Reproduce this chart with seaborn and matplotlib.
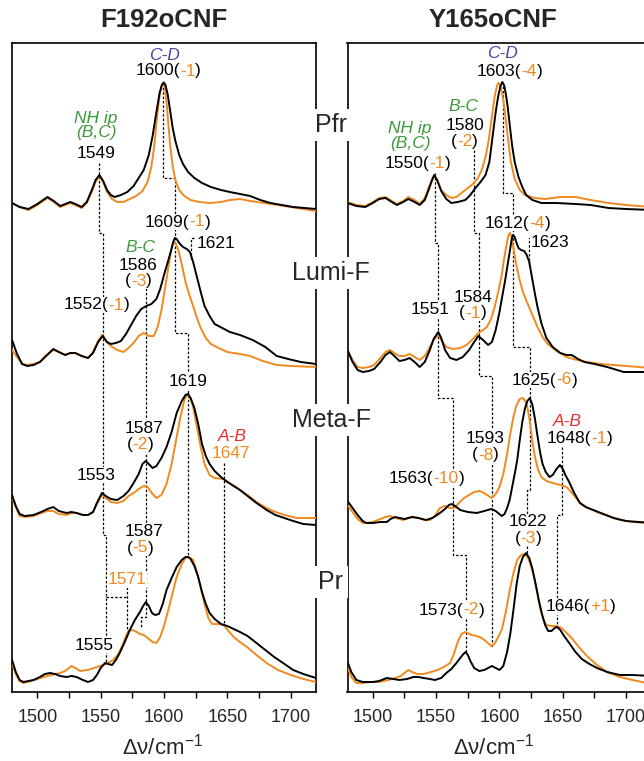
import numpy as np
import pandas as pd
import matplotlib
matplotlib.use("Agg")
import matplotlib.pyplot as plt
import seaborn as sns
from matplotlib.offsetbox import TextArea, HPacker, AnnotationBbox
from matplotlib.ticker import MultipleLocator

sns.set_style("ticks")
plt.rcParams["font.family"] = ["Liberation Sans", "DejaVu Sans"]
plt.rcParams["mathtext.fontset"] = "custom"
plt.rcParams["mathtext.rm"] = "Liberation Sans"
plt.rcParams["mathtext.it"] = "Liberation Sans:italic"

ORANGE = "#f08a1e"
GREEN = "#3a9a3a"
PURPLE = "#5a3ea6"
RED = "#e8302a"

# spectra: (wavenumber, stacked intensity) pairs
# black = reference, orange = isotope-labelled

# ---- F192oCNF ----
f192_pfr_k = [(1480, 489), (1486, 485), (1493, 483), (1500, 488), (1508, 495), (1513, 491), (1518, 486), (1522, 488),
              (1526, 490), (1530, 488), (1535, 485), (1539, 490), (1543, 502), (1546, 512), (1549, 517), (1552, 511),
              (1555, 502), (1558, 497), (1561, 495), (1566, 497), (1571, 500), (1576, 506), (1580, 514), (1584, 522),
              (1588, 537), (1591, 556), (1594, 580), (1596.5, 599), (1598.3, 607), (1599.8, 609.5), (1601.2, 607),
              (1603, 597), (1605, 580), (1607, 563), (1609, 551), (1612, 537), (1615, 528), (1619, 520), (1624, 514),
              (1630, 509), (1637, 505), (1645, 502), (1652, 500), (1660, 498), (1668, 496), (1676, 492), (1684, 489),
              (1693, 487), (1702, 485), (1711, 484), (1720, 483)]
f192_pfr_o = [(1480, 489), (1486, 485), (1493, 482), (1500, 487), (1508, 494), (1513, 490), (1518, 485), (1522, 487),
              (1526, 489), (1530, 487), (1535, 484), (1539, 489), (1543, 500), (1546, 510), (1549, 516), (1552, 510),
              (1555, 500), (1559, 493), (1563, 490), (1568, 490), (1573, 493), (1578, 496), (1583, 501), (1587, 510),
              (1590, 525), (1592.5, 548), (1594.5, 575), (1596.5, 596), (1598, 606), (1599.3, 609), (1600.6, 605),
              (1602, 590), (1603.5, 567), (1605, 545), (1607, 525), (1609, 512), (1612, 502), (1616, 496), (1621, 492),
              (1628, 490), (1636, 489), (1645, 490), (1652, 492), (1660, 493), (1668, 491), (1679, 489), (1690, 487),
              (1700, 485), (1710, 483), (1720, 481)]

f192_lumi_k = [(1480, 352), (1484, 338), (1488, 328), (1492, 326), (1497, 327), (1502, 330), (1507, 336), (1512.6, 343),
               (1517, 340), (1522, 337), (1526, 339), (1530, 339), (1535, 336), (1540, 334), (1544, 339), (1548, 350),
               (1551.7, 356), (1555, 350), (1558, 348), (1562, 349), (1566, 351), (1570, 358), (1574, 367), (1578, 376),
               (1582, 383), (1586, 386), (1590, 388), (1594, 393), (1597, 403), (1600, 417), (1603, 430), (1605.5, 441),
               (1607, 449), (1608.5, 454), (1610, 453), (1612, 449), (1615, 445), (1618, 443), (1620.5, 440),
               (1623, 430), (1626, 415), (1629, 400), (1632, 386), (1636, 376), (1640, 368), (1646, 364), (1652, 360),
               (1660, 357), (1670, 352), (1680, 345), (1689, 336), (1698, 333), (1708, 330), (1720, 328)]
f192_lumi_o = [(1480, 342), (1484, 335), (1488, 328), (1492, 327), (1497, 328), (1502, 330), (1507, 337), (1512.6, 342),
               (1517, 340), (1522, 337), (1526, 339), (1530, 339), (1535, 336), (1540, 334), (1544, 340), (1548, 351),
               (1551, 357), (1554, 351), (1558, 346), (1563, 342), (1568, 340), (1572, 344), (1576, 349), (1580, 356),
               (1584, 359), (1588, 356), (1592, 356), (1595, 365), (1598, 382), (1601, 405), (1603.5, 425),
               (1605.5, 441), (1607.5, 450), (1609.5, 448), (1611.5, 441), (1614, 428), (1617, 410), (1620, 397),
               (1623, 386), (1626, 374), (1629, 364), (1633, 354), (1637, 348), (1643, 344), (1650, 340), (1660, 338),
               (1668, 336), (1678, 331), (1689, 327), (1700, 326), (1720, 325)]

f192_meta_k = [(1480, 197), (1483, 186), (1486, 178), (1490, 176), (1497, 177), (1503, 180), (1508, 183), (1512.6, 185),
               (1517, 181), (1523, 179), (1527, 180), (1531, 179), (1536, 177), (1540, 177), (1544, 180), (1547, 189),
               (1551, 199), (1554, 196), (1558, 193), (1563, 192), (1568, 196), (1572, 201), (1576, 209), (1580, 218),
               (1583, 228), (1585.5, 231), (1588, 228), (1591, 224), (1594, 226), (1598, 234), (1602, 245), (1606, 260),
               (1610, 279), (1614, 291), (1617, 297), (1619, 298), (1621, 294), (1624, 284), (1627, 268), (1630, 248),
               (1633, 236), (1636, 228), (1640, 221), (1645, 215), (1650, 210), (1655, 206), (1660, 202), (1666, 196),
               (1673, 189), (1681, 182), (1688, 177), (1695, 174), (1702, 171), (1710, 168), (1720, 167)]
f192_meta_o = [(1480, 195), (1483, 185), (1486, 176), (1490, 175), (1497, 176), (1503, 179), (1508, 181), (1512.6, 181),
               (1517, 178), (1523, 177), (1527, 179), (1531, 179), (1536, 177), (1540, 177), (1544, 180), (1547, 188),
               (1551, 197), (1554, 194), (1558, 190), (1563, 189), (1568, 191), (1572, 196), (1576, 199), (1580, 203),
               (1584, 206), (1587, 205), (1591, 198), (1594, 194), (1598, 197), (1602, 208), (1606, 228), (1610, 255),
               (1613, 275), (1616, 292), (1618.6, 298), (1621, 293), (1623, 285), (1626, 265), (1629, 245), (1632, 228),
               (1636, 217), (1640, 214), (1647, 213), (1653, 208), (1660, 202), (1667, 196), (1673, 190), (1681, 184),
               (1688, 180), (1695, 177), (1705, 174), (1720, 174)]

f192_pr_k = [(1480, 32), (1483, 20), (1486, 12), (1489, 10), (1493, 11), (1497, 12), (1502, 15), (1506, 18), (1510, 19),
             (1514, 18), (1518, 16), (1523, 15), (1527, 16), (1531, 15), (1536, 12), (1540, 10), (1544, 12), (1547, 17),
             (1550, 24), (1553.5, 29), (1556, 28), (1559, 27), (1562, 32), (1565, 39), (1569, 50), (1573, 62),
             (1577, 72), (1581, 80), (1583.5, 86), (1585.7, 90), (1588, 86), (1590.5, 79), (1593, 77), (1596, 78),
             (1599, 88), (1602, 102), (1606, 114), (1610, 125), (1614, 132), (1617, 135), (1619, 135), (1621, 133),
             (1624, 126), (1627, 115), (1630, 100), (1633, 88), (1636, 79), (1640, 73), (1645, 68), (1650, 66),
             (1655, 63), (1660, 60), (1666, 56), (1673, 49), (1680, 42), (1687, 35), (1694, 29), (1702, 22),
             (1710, 18), (1720, 14)]
f192_pr_o = [(1480, 29), (1483, 18), (1486, 11), (1489, 9), (1495, 11), (1500, 13), (1505, 15), (1511, 17), (1518, 19),
             (1522, 21), (1527, 26), (1530, 24), (1534, 21), (1540, 22), (1547, 25), (1554, 28), (1560, 32), (1564, 38),
             (1568, 49), (1570, 56), (1572, 61), (1575, 62), (1578.6, 60), (1581, 58), (1584, 57), (1588, 53),
             (1591, 50), (1594, 49), (1597, 55), (1600, 66), (1603, 80), (1607, 100), (1610, 115), (1614, 128),
             (1617, 134), (1619, 135), (1621, 134), (1623, 132), (1626, 120), (1629, 104), (1632, 88), (1635, 74),
             (1638, 68), (1643, 68), (1647, 67), (1651, 61), (1655, 55), (1660, 50), (1665.5, 45), (1672, 38),
             (1681, 29), (1690, 22), (1700, 17), (1710, 13), (1720, 10)]

# ---- Y165oCNF ----
y165_pfr_k = [(1480, 489), (1487, 486), (1494, 485), (1500, 489), (1505, 493), (1510, 494), (1515, 490), (1519, 487),
              (1524, 490), (1528, 493), (1533, 490), (1537, 487), (1541, 492), (1544, 502), (1546.5, 511),
              (1548.5, 517), (1551, 511), (1554, 501), (1558, 493), (1562, 489), (1567, 490), (1573, 492), (1577, 497),
              (1581, 504), (1585, 510), (1589, 517), (1592, 530), (1594.5, 555), (1597, 580), (1599, 596),
              (1600.8, 606), (1602.2, 610), (1603.6, 607), (1605, 598), (1606.5, 585), (1608, 568), (1610, 546),
              (1612, 530), (1615, 515), (1618, 505), (1621, 497), (1626, 492), (1633, 489), (1645, 489), (1660, 488),
              (1672, 487), (1686, 484), (1700, 483), (1720, 482)]
y165_pfr_o = [(1480, 490), (1487, 487), (1494, 486), (1500, 490), (1505, 494), (1510, 495), (1515, 491), (1519, 488),
              (1524, 491), (1528, 495), (1533, 492), (1537, 488), (1541, 494), (1544, 504), (1546.5, 512),
              (1548.5, 517), (1551, 512), (1554, 502), (1558, 497), (1562, 494), (1566, 495), (1571, 500), (1575, 504),
              (1579, 508), (1583, 514), (1586, 522), (1589, 535), (1591.5, 552), (1594, 575), (1596, 594),
              (1597.8, 605), (1599, 609), (1600.5, 607), (1602, 599), (1603.5, 588), (1605, 572), (1607, 550),
              (1609, 530), (1612, 513), (1616, 502), (1620, 497), (1628, 494), (1636, 493), (1648, 495), (1660, 495),
              (1672, 492), (1686, 489), (1700, 487), (1720, 485)]

y165_lumi_k = [(1480, 342), (1484, 330), (1488, 322), (1492, 320), (1497, 321), (1501, 323), (1506, 330), (1510, 337),
               (1513.5, 340), (1517, 336), (1521, 331), (1525, 332), (1529, 334), (1533, 330), (1537, 325), (1541, 330),
               (1545, 342), (1548, 353), (1551.7, 360), (1554, 354), (1557, 342), (1561, 334), (1566, 332), (1571, 335),
               (1576, 342), (1580, 350), (1583.3, 356), (1587, 352), (1591, 347), (1594, 350), (1597, 362), (1600, 380),
               (1602.5, 398), (1604.5, 412), (1606.5, 428), (1608.3, 442), (1609.5, 452), (1610.6, 457), (1612, 455),
               (1613.5, 449), (1615, 444), (1617, 442), (1619.5, 441), (1621.5, 437), (1623.5, 430), (1626, 412),
               (1628, 398), (1630, 385), (1633, 369), (1637, 354), (1642, 345), (1648, 339), (1653, 337), (1657, 337),
               (1662, 333), (1667, 330), (1675, 328), (1685, 325), (1698, 320), (1720, 320)]
y165_lumi_o = [(1480, 342), (1484, 332), (1488, 325), (1492, 324), (1497, 325), (1501, 327), (1506, 334), (1510, 340),
               (1513.5, 342), (1517, 339), (1521, 336), (1525, 336), (1529, 338), (1533, 335), (1537, 332), (1541, 336),
               (1545, 345), (1548, 352), (1551.7, 357), (1554, 352), (1558, 345), (1563, 343), (1569, 344), (1574, 347),
               (1579, 353), (1583.3, 359), (1587, 362), (1590, 365), (1593, 372), (1596, 384), (1599, 400),
               (1601.5, 415), (1603.5, 432), (1605.5, 447), (1607.2, 457), (1608.3, 459), (1609.5, 455), (1611, 444),
               (1613, 429), (1615.5, 414), (1618.5, 400), (1622, 389), (1626, 377), (1630, 365), (1634, 355),
               (1638, 348), (1645, 341), (1653, 335), (1661, 332), (1669, 330), (1680, 328), (1690, 327), (1720, 324)]

y165_meta_k = [(1480, 191), (1484, 184), (1488, 177), (1492, 171), (1495, 169), (1500, 169), (1506, 170), (1511, 170),
               (1514, 173), (1517.5, 175), (1521, 174), (1525, 173), (1528, 174), (1531, 175), (1536, 174), (1542, 172),
               (1547, 174), (1553, 179), (1557, 183), (1560, 187), (1562.2, 188), (1565, 186), (1569, 182), (1575, 180),
               (1582, 179), (1588, 181), (1593.5, 183), (1597, 181), (1601.7, 176), (1604, 178), (1606, 184),
               (1608, 192), (1610, 205), (1612, 218), (1614, 232), (1616, 252), (1618, 270), (1620, 283), (1622, 291),
               (1624, 294), (1626, 287), (1628, 273), (1630, 256), (1632, 240), (1634, 228), (1636.5, 220),
               (1639.5, 215), (1642, 217), (1645, 223), (1647.7, 227), (1650, 223), (1652, 217), (1655, 210),
               (1659, 199), (1663.5, 189), (1668, 185), (1674, 182), (1682, 178), (1690, 174), (1700, 171), (1720, 169)]
y165_meta_o = [(1480, 187), (1484, 180), (1488, 173), (1492, 169), (1495, 169), (1500, 170), (1506, 173), (1510, 175),
               (1513.5, 176), (1518, 174), (1524, 172), (1528, 174), (1531, 175), (1536, 174), (1541, 172), (1545, 172),
               (1549, 176), (1553, 184), (1557, 186), (1561, 184), (1564, 184), (1568, 189), (1572, 194), (1576, 197),
               (1580, 200), (1584.6, 201), (1589, 198), (1593.8, 194), (1597, 198), (1600, 205), (1603, 218),
               (1606, 238), (1608.5, 258), (1611, 275), (1613.5, 287), (1616, 293), (1618.3, 294), (1620, 292),
               (1622, 285), (1624, 270), (1626, 250), (1628, 235), (1630.5, 222), (1633, 215), (1637, 211), (1642, 209),
               (1648, 207), (1653, 205), (1658, 198), (1663.5, 189), (1670, 184), (1677, 180), (1686, 176), (1695, 172),
               (1705, 170), (1720, 169)]

y165_pr_k = [(1480, 30), (1483, 20), (1487, 12), (1492, 10), (1497, 10), (1500, 10), (1505, 11), (1511, 14), (1516, 13),
             (1521, 12), (1527, 13), (1532, 15), (1536, 15), (1540, 14), (1545, 13), (1549, 12), (1554, 14), (1558, 19),
             (1562, 23), (1566, 29), (1569, 34), (1571.5, 38), (1573.3, 40), (1575, 37), (1577, 31), (1580, 24),
             (1584, 21), (1588, 22), (1591, 24), (1594, 26), (1597, 24), (1600, 22), (1603, 26), (1606, 40),
             (1608.5, 58), (1611, 82), (1613.5, 108), (1616, 126), (1618.5, 135), (1621, 139), (1623.5, 134),
             (1626, 123), (1628.5, 108), (1631, 92), (1633.5, 78), (1636, 67), (1638.5, 61), (1641, 61), (1643.5, 64),
             (1645.5, 65), (1648, 62), (1651, 56), (1655, 49), (1660, 40), (1665, 33), (1671, 28), (1677, 24),
             (1685, 20), (1695, 17), (1705, 17), (1720, 16)]
y165_pr_o = [(1480, 25), (1483, 15), (1487, 9), (1492, 9), (1498, 10), (1505, 10), (1512, 12), (1518, 14), (1522, 16),
             (1526, 20), (1528, 22), (1531, 20), (1535, 18), (1540, 18), (1546, 20), (1551, 22), (1556, 25), (1561, 29),
             (1564, 38), (1567, 50), (1570, 58), (1572.7, 60), (1575, 59), (1578, 57), (1582, 56), (1586, 54),
             (1590, 50), (1593.5, 46), (1596, 48), (1599, 55), (1602, 63), (1605, 80), (1608, 101), (1611, 119),
             (1614, 132), (1617, 137), (1620, 138), (1622.5, 134), (1625, 126), (1627.5, 114), (1630, 98), (1632, 84),
             (1634.5, 73), (1637, 67), (1641, 66), (1645, 66), (1649, 64), (1653, 59), (1657, 54), (1662, 46),
             (1669, 36), (1677, 27), (1685, 20), (1695, 15), (1705, 12), (1720, 8)]

states = ["Pfr", "Lumi-F", "Meta-F", "Pr"]
state_label_y = [125, 273, 420, 582]  # pixel rows of the state names

f192_traces = [(f192_pfr_k, f192_pfr_o), (f192_lumi_k, f192_lumi_o),
               (f192_meta_k, f192_meta_o), (f192_pr_k, f192_pr_o)]
y165_traces = [(y165_pfr_k, y165_pfr_o), (y165_lumi_k, y165_lumi_o),
               (y165_meta_k, y165_meta_o), (y165_pr_k, y165_pr_o)]

# dotted guide lines linking band positions between states
f192_guides = [
    [(1549, 529), (1549, 459), (1552, 459), (1552, 157), (1554, 157), (1554, 29)],
    [(1554, 95), (1571, 95)],
    [(1571, 105), (1571, 62)],
    [(1599.5, 609), (1599.5, 514), (1608.5, 514), (1608.5, 359), (1619, 359), (1619, 135)],
    [(1586, 404), (1586, 75), (1582, 75), (1582, 64)],
    [(1623.5, 454), (1621, 454), (1621, 432)],
    [(1647.5, 229), (1647.5, 69)],
]
y165_guides = [
    [(1549, 519), (1549, 449), (1551.5, 449), (1551.5, 294), (1563, 294), (1563, 137), (1573.3, 137), (1573.3, 40)],
    [(1580, 542), (1580, 459), (1583.5, 459), (1583.5, 316), (1594, 316), (1594, 45)],
    [(1602.5, 606), (1602.5, 499), (1611, 499), (1611, 345), (1624, 345), (1624, 202), (1621.5, 202), (1621.5, 139)],
    [(1625, 454), (1623, 454), (1623, 427)],
    [(1649, 245), (1649, 177), (1645.6, 177), (1645.6, 65)],
]

K = "black"
O = ORANGE
# band labels: x, y, [(text, colour)], italic
f192_labels = [
    (1600.2, 637, [("C-D", PURPLE)], True),
    (1603.3, 621, [("1600(", K), ("-1", O), (")", K)], False),
    (1546.4, 574, [("NH ip", GREEN)], True),
    (1546.4, 559, [("(B,C)", GREEN)], True),
    (1546.4, 539, [("1549", K)], False),
    (1610.8, 470, [("1609(", K), ("-1", O), (")", K)], False),
    (1641.3, 449, [("1621", K)], False),
    (1581.2, 445, [("B-C", GREEN)], True),
    (1579.6, 427, [("1586", K)], False),
    (1580.0, 411, [("(", K), ("-3", O), (")", K)], False),
    (1547.0, 387, [("1552(", K), ("-1", O), (")", K)], False),
    (1618.7, 311, [("1619", K)], False),
    (1584.0, 263.5, [("1587", K)], False),
    (1581.2, 247.5, [("(", K), ("-2", O), (")", K)], False),
    (1653.9, 255.3, [("A-B", RED)], True),
    (1653.0, 238.5, [("1647", O)], False),
    (1546.4, 217, [("1553", K)], False),
    (1584.0, 160, [("1587", K)], False),
    (1581.2, 144, [("(", K), ("-5", O), (")", K)], False),
    (1570.7, 112, [("1571", O)], False),
    (1544.8, 47, [("1555", K)], False),
]
y165_labels = [
    (1602.7, 638.5, [("C-D", PURPLE)], True),
    (1607.9, 620.5, [("1603(", K), ("-4", O), (")", K)], False),
    (1571.2, 585.3, [("B-C", GREEN)], True),
    (1572.5, 567, [("1580", K)], False),
    (1572.5, 550.3, [("(", K), ("-2", O), (")", K)], False),
    (1529.3, 563.5, [("NH ip", GREEN)], True),
    (1529.3, 548.5, [("(B,C)", GREEN)], True),
    (1535.2, 528.5, [("1550(", K), ("-1", O), (")", K)], False),
    (1614.6, 468.7, [("1612(", K), ("-4", O), (")", K)], False),
    (1639.8, 449.5, [("1623", K)], False),
    (1579.0, 394.5, [("1584", K)], False),
    (1579.0, 379, [("(", K), ("-1", O), (")", K)], False),
    (1545.1, 382, [("1551", K)], False),
    (1635.9, 312, [("1625(", K), ("-6", O), (")", K)], False),
    (1653.2, 270.3, [("A-B", RED)], True),
    (1663.1, 253.7, [("1648(", K), ("-1", O), (")", K)], False),
    (1588.5, 253.7, [("1593", K)], False),
    (1588.9, 237, [("(", K), ("-8", O), (")", K)], False),
    (1542.5, 213.7, [("1563(", K), ("-10", O), (")", K)], False),
    (1622.5, 170.3, [("1622", K)], False),
    (1622.5, 153.7, [("(", K), ("-3", O), (")", K)], False),
    (1562.2, 82, [("1573(", K), ("-2", O), (")", K)], False),
    (1664.3, 85.3, [("1646(", K), ("+1", O), (")", K)], False),
]


def band_label(ax, x, y, parts, italic):
    boxes = [TextArea(t, textprops=dict(color=c, fontsize=12.5,
                                        fontstyle="italic" if italic else "normal"))
             for t, c in parts]
    pack = HPacker(children=boxes, pad=0, sep=0, align="baseline")
    ab = AnnotationBbox(pack, (x, y), xycoords="data", box_alignment=(0.5, 0.5),
                        frameon=True, pad=0.05,
                        bboxprops=dict(fc="white", ec="none"), zorder=3)
    ax.add_artist(ab)


W, H = 644, 761
fig = plt.figure(figsize=(W / 100, H / 100), dpi=100)
ax_l = fig.add_axes([12 / W, 69 / H, 304 / W, 649 / H])
ax_r = fig.add_axes([347.5 / W, 69 / H, 304 / W, 649 / H])

for ax, traces, guides, labels in [(ax_l, f192_traces, f192_guides, f192_labels),
                                   (ax_r, y165_traces, y165_guides, y165_labels)]:
    for black, orange in traces:
        ob = pd.DataFrame(orange, columns=["nu", "I"])
        bk = pd.DataFrame(black, columns=["nu", "I"])
        sns.lineplot(data=ob, x="nu", y="I", ax=ax, color=ORANGE, lw=1.4, zorder=4)
        sns.lineplot(data=bk, x="nu", y="I", ax=ax, color="black", lw=1.4, zorder=5)
    for g in guides:
        gx, gy = zip(*g)
        ax.plot(gx, gy, color="black", lw=0.9, ls=(0, (2, 1.5)), zorder=2)
    for x, y, parts, it in labels:
        band_label(ax, x, y, parts, it)
    ax.set_xlim(1480, 1720)
    ax.set_ylim(0, 649)
    ax.set_yticks([])
    ax.set_xlabel("")
    ax.set_ylabel("")
    ax.xaxis.set_major_locator(MultipleLocator(50))
    ax.xaxis.set_minor_locator(MultipleLocator(25))
    ax.tick_params(axis="x", which="both", direction="out", length=4.5, width=1,
                   labelsize=13, pad=8, color="black")
    for s in ax.spines.values():
        s.set_linewidth(1.2)
        s.set_color("black")

for name, py in zip(states, state_label_y):
    fig.text(331 / W, 1 - py / H, name, ha="center", va="center", fontsize=18,
             bbox=dict(fc="white", ec="none", pad=3), zorder=10)

fig.text(164 / W, 1 - 20 / H, "F192oCNF", ha="center", va="center",
         fontsize=18.5, fontweight="bold")
fig.text(493 / W, 1 - 20 / H, "Y165oCNF", ha="center", va="center",
         fontsize=18.5, fontweight="bold")
fig.text(162 / W, 1 - 747 / H, r"Δν/cm$^{-1}$", ha="center", va="center", fontsize=16)
fig.text(493 / W, 1 - 747 / H, r"Δν/cm$^{-1}$", ha="center", va="center", fontsize=16)

fig.savefig("out.png", dpi=100)
